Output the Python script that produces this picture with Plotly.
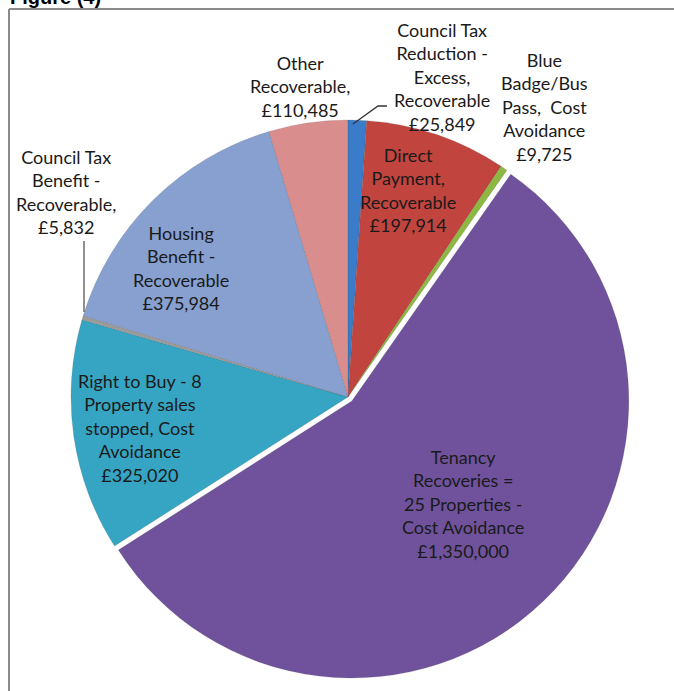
import plotly.graph_objects as go

W, H = 674, 691

# ---- data ----
categories = [
    "Council Tax Reduction - Excess, Recoverable",
    "Direct Payment, Recoverable",
    "Blue Badge/Bus Pass, Cost Avoidance",
    "Tenancy Recoveries = 25 Properties - Cost Avoidance",
    "Right to Buy - 8 Property sales stopped, Cost Avoidance",
    "Council Tax Benefit - Recoverable",
    "Housing Benefit - Recoverable",
    "Other Recoverable",
]
values = [25849, 197914, 9725, 1350000, 325020, 5832, 375984, 110485]
label_texts = [
    "Council Tax<br>Reduction -<br>Excess,<br>Recoverable<br>£25,849",
    "Direct<br>Payment,<br>Recoverable<br>£197,914",
    "Blue<br>Badge/Bus<br>Pass,  Cost<br>Avoidance<br>£9,725",
    "Tenancy<br>Recoveries =<br>25 Properties -<br>Cost Avoidance<br>£1,350,000",
    "Right to Buy - 8<br>Property sales<br>stopped, Cost<br>Avoidance<br>£325,020",
    "Council Tax<br>Benefit -<br>Recoverable,<br>£5,832",
    "Housing<br>Benefit -<br>Recoverable<br>£375,984",
    "Other<br>Recoverable,<br>£110,485",
]

# ---- style ----
colors = ["#3A7CC9", "#C2443F", "#8DB842", "#6F529B",
          "#36A5C3", "#9C9C9C", "#87A0D0", "#D98D8C"]
pulls = [0, 0, 0, 0.02, 0, 0, 0, 0]
# label centres in window pixels (layout only)
label_pos = [(442, 77), (408, 190), (544, 107), (463, 504),
             (140, 428), (66, 192), (181, 268), (300, 86)]

def px(x):
    return x / W

def py(y):
    return 1 - y / H

cx, cy, r = 348, 397, 277
half = r * (1 + max(pulls))

fig = go.Figure(go.Pie(
    labels=categories,
    values=values,
    sort=False,
    direction="clockwise",
    rotation=0,
    pull=pulls,
    textinfo="none",
    marker=dict(colors=colors, line=dict(color="rgba(60,60,60,0.25)", width=0.6)),
    showlegend=False,
    domain=dict(x=[px(cx - half), px(cx + half)], y=[py(cy + half), py(cy - half)]),
    hovertemplate="%{label}: £%{value:,}<extra></extra>",
))

annotations = []
for txt, (x, y) in zip(label_texts, label_pos):
    annotations.append(dict(
        text=txt, x=px(x), y=py(y), xref="paper", yref="paper",
        xanchor="center", yanchor="middle", showarrow=False, align="center",
        font=dict(family="Lato, Open Sans, sans-serif", size=18, color="#1a1a1a"),
    ))
annotations.append(dict(
    text="<b>Figure (4)</b>", x=px(8), y=py(10), xref="paper", yref="paper",
    xanchor="left", yanchor="bottom", showarrow=False,
    font=dict(family="Liberation Sans, Arial, sans-serif", size=20, color="#000000"),
))

shapes = [
    # chart frame
    dict(type="line", xref="paper", yref="paper", x0=px(9), y0=py(9), x1=px(700), y1=py(9),
         line=dict(color="#8a8a8a", width=2)),
    dict(type="line", xref="paper", yref="paper", x0=px(9), y0=py(9), x1=px(9), y1=py(720),
         line=dict(color="#8a8a8a", width=2)),
    # leader lines
    dict(type="path", xref="paper", yref="paper",
         path=f"M {px(353)} {py(124)} L {px(378)} {py(106)} L {px(387)} {py(106)}",
         line=dict(color="#333333", width=1.3)),
    dict(type="line", xref="paper", yref="paper", x0=px(84), y0=py(241), x1=px(84), y1=py(312),
         line=dict(color="#555555", width=1.3)),
]

fig.update_layout(
    width=W, height=H,
    margin=dict(l=0, r=0, t=0, b=0),
    paper_bgcolor="white", plot_bgcolor="white",
    annotations=annotations, shapes=shapes,
)

fig.write_html(
    "out.html",
    config={"displayModeBar": False},
    post_script="document.body.style.margin='0';document.body.style.overflow='hidden';",
)
